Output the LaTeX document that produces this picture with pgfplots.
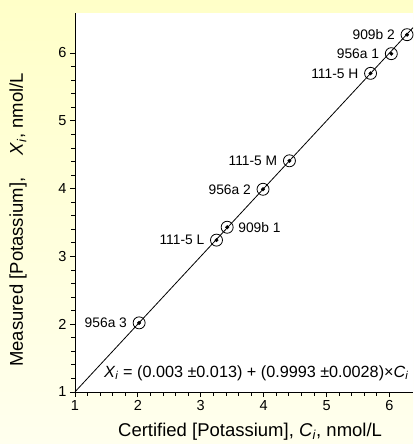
\documentclass[border=0pt]{standalone}
\usepackage{pgfplots}
\pgfplotsset{compat=1.18}
\usepackage{pgfplotstable}
\usepackage{fontspec}
\setmainfont{Liberation Sans}
\definecolor{bgtop}{RGB}{255,255,200}
\definecolor{bgbot}{RGB}{255,255,238}
\pgfplotstableread[col sep=comma]{
x,y,label
2.02,2.02,956a 3
3.25,3.24,111-5 L
3.99,3.99,956a 2
4.41,4.41,111-5 M
5.70,5.70,111-5 H
6.03,5.99,956a 1
6.28,6.27,909b 2
}\leftlab
\pgfplotstableread[col sep=comma]{
x,y,label
3.42,3.43,909b 1
}\rightlab
\pgfplotstableread[col sep=comma]{
x,y
2.02,2.02
3.25,3.24
3.42,3.43
3.99,3.99
4.41,4.41
5.70,5.70
6.03,5.99
6.28,6.27
}\pts
\begin{document}
\begin{tikzpicture}
\useasboundingbox (-75pt,-52pt) rectangle (338pt,392pt);
\shade[top color=bgtop, bottom color=bgbot] (-75pt,-52pt) rectangle (338pt,392pt);
\begin{axis}[
  at={(0pt,0pt)}, anchor=south west,
  scale only axis, width=338pt, height=379pt,
  xmin=1, xmax=6.375, ymin=1, ymax=6.59,
  axis x line*=bottom, axis y line*=left,
  x axis line style={-}, y axis line style={-},
  axis line style={black, line width=0.8pt},
  axis background/.style={fill=white},
  xtick={1,2,3,4,5,6}, ytick={1,2,3,4,5,6},
  minor tick num=4,
  tick align=outside,
  major tick length=5pt, minor tick length=3.5pt,
  tick style={black, line width=0.8pt},
  /pgf/number format/assume math mode=true,
  ticklabel style={font=\fontsize{14.5}{17}\selectfont},
  xlabel={Certified [Potassium], \textit{C}\textsubscript{\textit{i}}, nmol/L},
  ylabel={Measured [Potassium],\hspace{1.2em}\textit{X}\textsubscript{\textit{i}}, nmol/L},
  label style={font=\fontsize{18.5}{22}\selectfont},
  xlabel style={at={(axis description cs:0.518,-0.1175)}, anchor=base},
  ylabel style={at={(axis description cs:-0.154,0.454)}, anchor=base},
  clip=true,
]
\addplot[black, line width=0.8pt] coordinates {(1,1.0023) (6.375,6.3736)};
\addplot[only marks, mark=o, mark size=6pt, mark options={black, line width=0.8pt}] table {\pts};
\addplot[only marks, mark=*, mark size=1.8pt, mark options={black}] table {\pts};
\addplot[draw=none, mark=none, nodes near coords, point meta=explicit symbolic,
  every node near coord/.append style={anchor=east, xshift=-12pt, inner sep=0pt, font=\fontsize{13.8}{16}\selectfont}]
  table[meta=label] {\leftlab};
\addplot[draw=none, mark=none, nodes near coords, point meta=explicit symbolic,
  every node near coord/.append style={anchor=west, xshift=11pt, inner sep=0pt, font=\fontsize{13.8}{16}\selectfont}]
  table[meta=label] {\rightlab};
\node[anchor=base west, inner sep=0pt, font=\fontsize{16.2}{19}\selectfont] at (axis cs:1.46,1.22)
  {\textit{X}\textsubscript{\textit{i}} = (0.003 ±0.013) + (0.9993 ±0.0028)×\textit{C}\textsubscript{\textit{i}}};
\end{axis}
\end{tikzpicture}
\end{document}
